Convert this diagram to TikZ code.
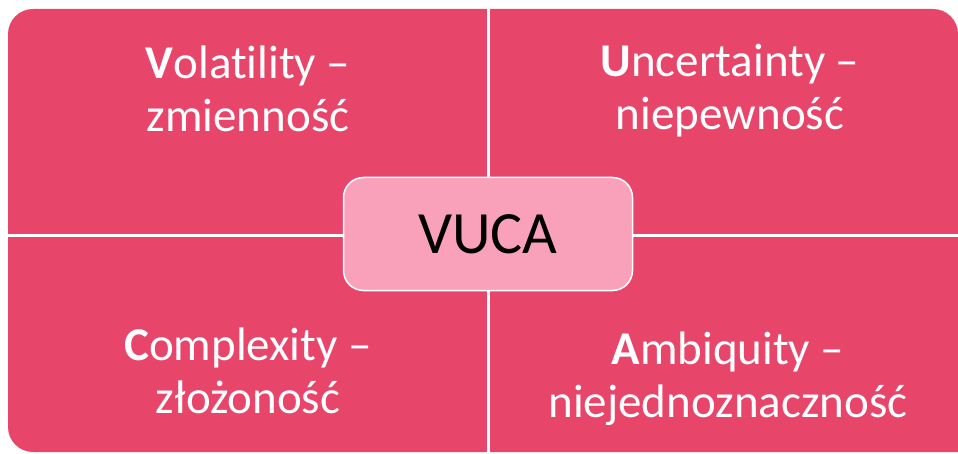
\documentclass[tikz,border=0pt]{standalone}
\usepackage{fontspec}
\setmainfont{Carlito}[Ligatures=NoCommon]
\definecolor{vucared}{HTML}{E8456A}
\definecolor{vucapink}{HTML}{F9A1BB}
\begin{document}
\begin{tikzpicture}[x=1pt,y=1pt,
    quadtext/.style={text=white, align=center, anchor=base, font=\fontsize{47}{53}\selectfont},
    vucabox/.style={draw=white, line width=1.5pt, fill=vucapink, rounded corners=20pt,
      minimum width=289pt, minimum height=113pt, font=\fontsize{60}{70}\selectfont}]
  \useasboundingbox (0,0) rectangle (958,453);
  % matrix background, three rounded outer corners
  \fill[vucared] (8,26) -- (8,419) arc[start angle=180, end angle=90, radius=25]
    -- (933,444) arc[start angle=90, end angle=0, radius=25]
    -- (958,1) -- (33,1) arc[start angle=270, end angle=180, radius=25] -- cycle;
  % dividers
  \coordinate (top) at (488.5,444);
  \coordinate (bot) at (488.5,0);
  \coordinate (lft) at (8,217);
  \coordinate (rgt) at (958,217);
  \draw[white, line width=3pt] (top) -- (bot) (lft) -- (rgt);
  % quadrant labels (base = last line)
  \node[quadtext] (vol) at (248,321) {{\bfseries V}olatility –\\zmienność};
  \node[quadtext] (unc) at (730,323) {{\bfseries U}ncertainty –\\niepewność};
  \node[quadtext] (com) at (248,40) {{\bfseries C}omplexity –\\złożoność};
  \node[quadtext] (amb) at (728,36) {{\bfseries A}mbiquity –\\niejednoznaczność};
  % centre
  \node[vucabox] (vuca) at (488,219) {VUCA};
\end{tikzpicture}
\end{document}
